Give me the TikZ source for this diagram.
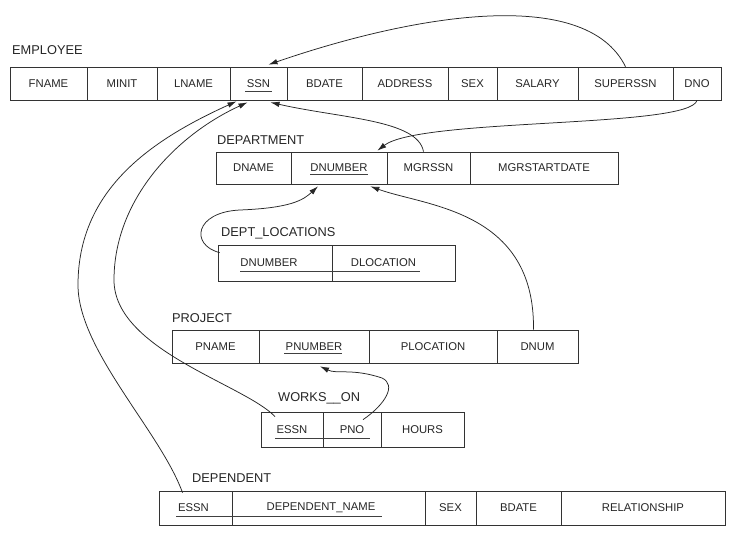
\documentclass[tikz,border=0pt]{standalone}
\usepackage{fontspec}
\setmainfont{Liberation Sans}
\usetikzlibrary{arrows.meta}
\newcommand\cellat[6]{\node[cell, minimum width={(#3-#2)*1pt}, minimum height={#5*1pt}] (#1) at ({(#2+#3)/2},#4) {#6};}
\begin{document}
\begin{tikzpicture}[x=1pt,y=-1pt,
  cell/.style={draw=black!80, line width=0.7pt, inner sep=0pt, font=\fontsize{11.3}{13}\selectfont, text=black!85},
  tbl/.style={anchor=west, inner sep=0pt, font=\fontsize{12.8}{15}\selectfont, text=black!85},
  ul/.style={line width=0.7pt, draw=black!75},
  fk/.style={line width=0.75pt, draw=black!85, -{Latex[length=9pt,width=5.5pt]}}]
\fill[white] (0,0) rectangle (732,533);
\useasboundingbox (0,0) rectangle (732,533);

% EMPLOYEE
\node[tbl] (employee) at (12,50) {EMPLOYEE};
\cellat{fname}{10}{87}{83.5}{33}{FNAME}
\cellat{minit}{87}{157}{83.5}{33}{MINIT}
\cellat{lname}{157}{230}{83.5}{33}{LNAME}
\cellat{ssn}{230}{287}{83.5}{33}{SSN}
\cellat{bdate}{287}{362}{83.5}{33}{BDATE}
\cellat{address}{362}{448}{83.5}{33}{ADDRESS}
\cellat{sex}{448}{497}{83.5}{33}{SEX}
\cellat{salary}{497}{578}{83.5}{33}{SALARY}
\cellat{superssn}{578}{673}{83.5}{33}{SUPERSSN}
\cellat{dno}{673}{721}{83.5}{33}{DNO}
\draw[ul] (245,91) -- (272,91);

% DEPARTMENT
\node[tbl] (department) at (217,140) {DEPARTMENT};
\cellat{dname}{216}{291}{168}{32}{DNAME}
\cellat{dnumber}{291}{387}{168}{32}{DNUMBER}
\cellat{mgrssn}{387}{470}{168}{32}{MGRSSN}
\cellat{mgrstart}{470}{618}{168}{32}{MGRSTARTDATE}
\draw[ul] (310,174.5) -- (368,174.5);

% DEPT_LOCATIONS
\node[tbl] (deptloc) at (221,233) {DEPT\_LOCATIONS};
\cellat{dlnum}{218}{332}{263}{36}{DNUMBER\hspace*{12pt}}
\cellat{dlloc}{332}{455}{263}{36}{DLOCATION\hspace*{20pt}}
\draw[ul] (240,271) -- (420,271);

% PROJECT
\node[tbl] (project) at (172,318) {PROJECT};
\cellat{pname}{172}{259}{346.5}{33}{PNAME}
\cellat{pnumber}{259}{369}{346.5}{33}{PNUMBER}
\cellat{ploc}{369}{497}{346.5}{33}{PLOCATION}
\cellat{dnum}{497}{578}{346.5}{33}{DNUM}
\draw[ul] (284,353.5) -- (342,353.5);

% WORKS_ON
\node[tbl] (workson) at (278,398) {WORKS\_\_ON};
\cellat{wessn}{261}{323}{429.5}{35}{ESSN}
\cellat{wpno}{323}{381}{429.5}{35}{PNO}
\cellat{whours}{381}{464}{429.5}{35}{HOURS}
\draw[ul] (275,438) -- (370,438);

% DEPENDENT
\node[tbl] (dependent) at (192,478) {DEPENDENT};
\cellat{dessn}{159}{232}{508}{34}{ESSN\hspace*{4pt}}
\cellat{depname}{232}{425}{508}{34}{DEPENDENT\_NAME\hspace*{15pt}}
\cellat{dsex}{425}{476}{508}{34}{SEX}
\cellat{dbdate}{476}{561}{508}{34}{BDATE}
\cellat{drel}{561}{725}{508}{34}{RELATIONSHIP}
\draw[ul] (176,516) -- (382,516);

% bend points
\coordinate (outerbend) at (78,285);
\coordinate (innerbend) at (114,280);
\coordinate (locbend) at (240,210);
\coordinate (pnobend) at (382,378);

% connectors
\draw[fk] (superssn.north) .. controls +(-40.5,-82) and +(142,-49) .. ([xshift=10pt,yshift=2pt]ssn.north);
\draw[fk] (dno.south) .. controls +(-7,28) and +(43,-33) .. ([xshift=-10pt,yshift=1pt]dnumber.north east);
\draw[fk] ([xshift=-5pt]mgrssn.north) .. controls +(-5.5,-32) and +(70,16) .. ([xshift=12pt,yshift=-2pt]ssn.south);
\draw[fk] ([xshift=-13pt,yshift=-2pt]dessn.north) .. controls +(-22,-61) and +(0,65) .. (outerbend)
   .. controls +(0,-95) and +(-86,39) .. ([xshift=-22pt,yshift=-1pt]ssn.south);
\draw[fk] ([xshift=-17pt,yshift=-5pt]wessn.north) .. controls +(-30,-32) and +(0,70) .. (innerbend)
   .. controls +(0,-80) and +(-72,33) .. ([xshift=-11pt,yshift=-2pt]ssn.south);
\draw[fk] ([xshift=2pt,yshift=-8pt]dlnum.north west) .. controls +(-30,-8) and +(-45,2) .. (locbend)
   .. controls +(50,-2) and +(-15,14) .. ([xshift=-21pt,yshift=-2pt]dnumber.south);
\draw[fk] ([xshift=-4pt]dnum.north) .. controls +(1.5,-120) and +(55,20) .. ([xshift=-17pt,yshift=-2pt]dnumber.south east);
\draw[fk] ([xshift=11pt,yshift=-8pt]wpno.north) .. controls +(22,-15) and +(15,7) .. (pnobend)
   .. controls +(-30,-10) and +(17,8) .. ([xshift=6pt,yshift=-3pt]pnumber.south);
\end{tikzpicture}
\end{document}
